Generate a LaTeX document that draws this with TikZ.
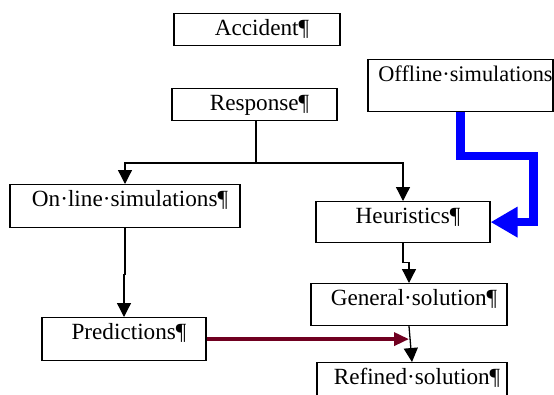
\documentclass[tikz,border=0pt]{standalone}
\usepackage{fontspec}
\setmainfont{Liberation Serif}
\usetikzlibrary{arrows.meta}
\definecolor{darkmaroon}{RGB}{112,0,32}
\begin{document}
\begin{tikzpicture}[x=1pt,y=-1pt,
  box/.style={draw,line width=1.2pt,anchor=north,inner xsep=1pt,inner ysep=6pt,
    text height=16pt,font=\fontsize{23.2}{27}\selectfont,
    execute at begin node={\hspace*{10pt}}},
  arr/.style={line width=1.3pt,-{Triangle[length=14pt,width=14pt]}},
  bluearr/.style={blue,line width=8.5pt,-{Triangle[length=27pt,width=29pt]}},
  redarr/.style={darkmaroon,line width=3.5pt,-{Triangle[length=15pt,width=13pt]}}]
\path[use as bounding box,clip] (0,0) rectangle (554,394);

\node[box,minimum width=166pt,text depth=4pt] (acc) at (257,13) {Accident¶};
\node[box,minimum width=165pt,text depth=4pt] (resp) at (254.5,88) {Response¶};
\node[box,minimum width=185pt,text depth=24pt,inner xsep=0pt,font=\fontsize{22.3}{26}\selectfont,
  execute at begin node={}] (off) at (460.5,59) {Offline·simulations};
\node[box,minimum width=230pt,text depth=15pt] (onl) at (125,184) {On·line·simulations¶};
\node[box,minimum width=174pt,text depth=13pt] (heur) at (403,201) {Heuristics¶};
\node[box,minimum width=164pt,text depth=15pt] (pred) at (124,317) {Predictions¶};
\node[box,minimum width=196pt,text depth=14pt] (gen) at (409,283) {General·solution¶};
\node[box,minimum width=190pt,text depth=24pt] (ref) at (412,362) {Refined·solution¶};

% response splits to both branches
\coordinate (split) at (256,163);
\draw[line width=1.3pt] (resp.south -| split) -- (split);
\draw[arr] (split) -| (onl.north);
\draw[arr] (split) -| (heur.north);

\draw[arr] (onl.south) -- ++(0,46) -| (pred.north);
\draw[arr] (heur.south) -- ++(0,19) -| (gen.north);
\draw[arr] (gen.south) -- (ref.north);

\draw[redarr] (pred.east) -- (pred.east -| gen.south);
\draw[bluearr] (off.south) -- ++(0,44) -- ++(73,0) |- (heur.east);
\end{tikzpicture}
\end{document}
